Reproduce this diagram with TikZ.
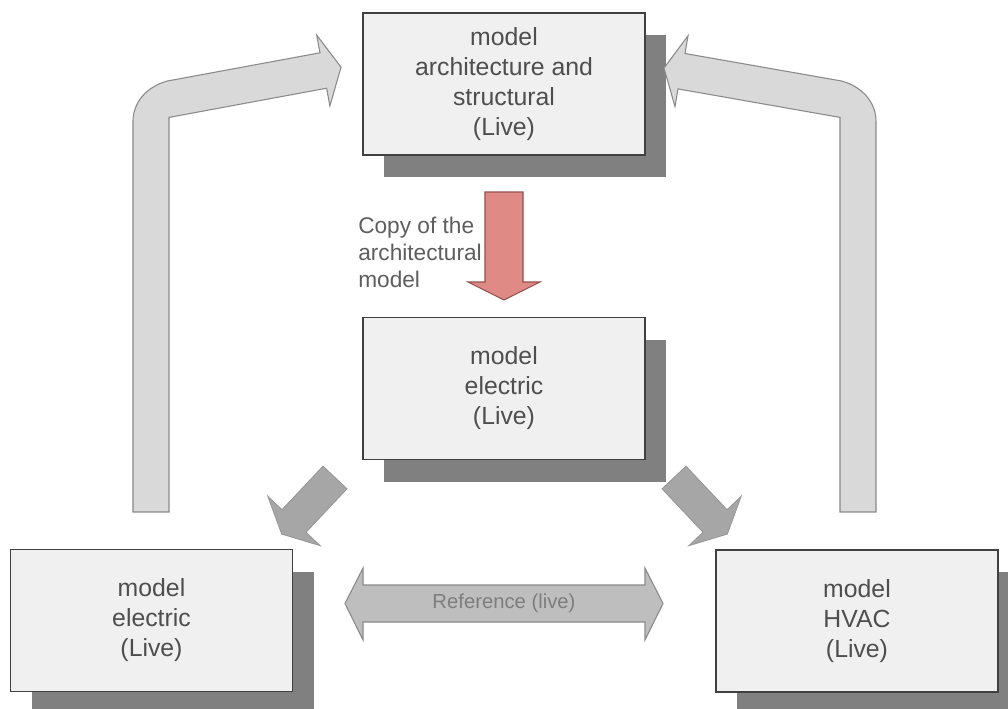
\documentclass[tikz,border=0pt]{standalone}
\usepackage{fontspec}
\setmainfont{Liberation Sans}
\usetikzlibrary{shadows}

\definecolor{boxfill}{HTML}{F0F0F0}
\definecolor{boxline}{HTML}{404040}
\definecolor{shadowc}{HTML}{808080}
\definecolor{boxtext}{HTML}{4E4E4E}
\definecolor{lbltext}{HTML}{5E5E5E}
\definecolor{reftext}{HTML}{7E7E7E}
\definecolor{bentfill}{HTML}{D9D9D9}
\definecolor{bentline}{HTML}{8A8A8A}
\definecolor{dblfill}{HTML}{BEBEBE}
\definecolor{diagfill}{HTML}{A6A6A6}
\definecolor{redfill}{HTML}{DF8A84}
\definecolor{redline}{HTML}{94504E}

\tikzset{
  modelbox/.style={draw=boxline, line width=1.1pt, fill=boxfill,
    minimum width=211.5pt, minimum height=106.5pt, inner sep=0pt,
    align=center, text=boxtext, font=\fontsize{18.6}{22.5}\selectfont,
    general shadow={fill=shadowc, shadow xshift=15.75pt, shadow yshift=-16.5pt}},
  bentarrow/.style={fill=bentfill, draw=bentline, line width=0.8pt, line join=miter},
  dblarrow/.style={fill=dblfill, draw=bentline, line width=0.8pt},
  diagarrow/.style={fill=diagfill, draw=diagfill!90!black, line width=0.6pt},
  redarrow/.style={fill=redfill, draw=redline, line width=0.8pt},
}

\begin{document}
\begin{tikzpicture}[x=0.75pt, y=-0.75pt]
\useasboundingbox (0,0) rectangle (1008,708);
\clip (0,0) rectangle (1008,708);
\fill[white] (0,0) rectangle (1008,708);

% model boxes
\node[modelbox] (arch) at (504,84) {model\\architecture and\\structural\\(Live)};
\node[modelbox] (elecmid) at (504,388.5) {model\\electric\\(Live)};
\node[modelbox] (elecleft) at (151.5,620.5) {model\\electric\\(Live)};
\node[modelbox] (hvac) at (857,621) {model\\HVAC\\(Live)};

% bent return arrow, left side
\draw[bentarrow] (133,512) -- (133,121.4) .. controls (133,102) and (147,86.6) .. (167.4,81)
  -- (320,52.8) -- (316.7,35.1) -- (341,67.2) -- (329.9,105.9) -- (326.6,88.2)
  -- (169,117.4) -- (169,512) -- cycle;

% bent return arrow, right side
\draw[bentarrow] (876,512) -- (876,121.4) .. controls (876,102) and (862,86.6) .. (841.6,81)
  -- (685,53.5) -- (688,35.8) -- (664,68) -- (675,106.6) -- (678,88.9)
  -- (840,117.4) -- (840,512) -- cycle;

% copy arrow
\draw[redarrow] (485,192) -- (523,192) -- (523,282) -- (540,282) -- (504,300)
  -- (468,282) -- (485,282) -- cycle;
\node[anchor=west, align=left, text=lbltext, inner sep=0pt,
  font=\fontsize{17}{20.25}\selectfont] (copylbl) at (358,252)
  {Copy of the\\architectural\\model};

% diagonal arrows
\draw[diagarrow] (323,466.2) -- (347,488.8) -- (306,532.3) -- (320.2,545.7)
  -- (281.7,534.1) -- (267.8,496.3) -- (282,509.7) -- cycle;
\draw[diagarrow] (686,466.2) -- (662,488.8) -- (703,532.3) -- (688.8,545.7)
  -- (727.3,534.1) -- (741.2,496.3) -- (727,509.7) -- cycle;

% reference double arrow
\draw[dblarrow] (345,603.5) -- (363,568) -- (363,585) -- (645,585) -- (645,568)
  -- (663,603.5) -- (645,640) -- (645,622) -- (363,622) -- (363,640) -- cycle;
\node[text=reftext, inner sep=0pt, font=\fontsize{15.2}{18}\selectfont]
  (reflbl) at (504,603.5) {Reference (live)};
\end{tikzpicture}
\end{document}
